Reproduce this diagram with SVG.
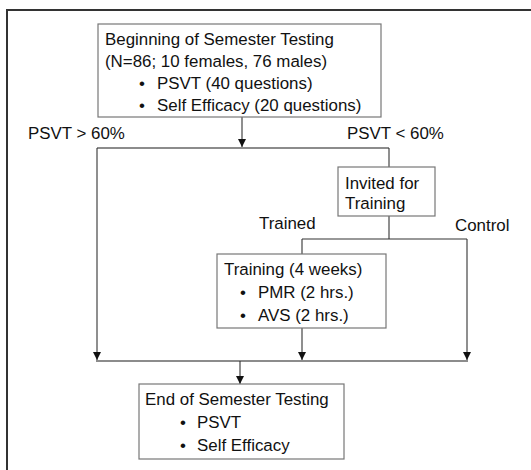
<svg xmlns="http://www.w3.org/2000/svg" width="531" height="470" viewBox="0 0 531 470">
  <defs>
    <marker id="arrow" viewBox="0 0 10 10" refX="10" refY="5" markerWidth="8" markerHeight="9" markerUnits="userSpaceOnUse" orient="auto">
      <path d="M0,0 L10,5 L0,10 z" fill="#111"/>
    </marker>
    <style>
      .box { fill: #fff; stroke: #777; stroke-width: 1.2; }
      .txt { font-family: "Liberation Sans", Arial, sans-serif; font-size: 16.9px; fill: #111; }
      .conn { fill: none; stroke: #333; stroke-width: 1.1; }
      .bus { fill: none; stroke: #666; stroke-width: 1.4; }
    </style>
  </defs>

  <rect width="531" height="470" fill="#fff"/>
  <!-- outer frame -->
  <path d="M7,470 V10 H531" fill="none" stroke="#333" stroke-width="2"/>

  <!-- connectors -->
  <g id="connectors">
    <line class="conn" x1="242" y1="117" x2="242" y2="147" marker-end="url(#arrow)"/>
    <line class="bus" x1="97" y1="148" x2="389" y2="148"/>
    <line class="conn" x1="97" y1="148" x2="97" y2="360" marker-end="url(#arrow)"/>
    <line class="conn" x1="389" y1="148" x2="389" y2="167"/>
    <line class="conn" x1="389" y1="216" x2="389" y2="239"/>
    <line class="conn" x1="302" y1="239" x2="467" y2="239"/>
    <line class="conn" x1="302" y1="239" x2="302" y2="254"/>
    <line class="conn" x1="467" y1="239" x2="467" y2="360" marker-end="url(#arrow)"/>
    <line class="conn" x1="302" y1="328" x2="302" y2="360" marker-end="url(#arrow)"/>
    <line class="bus" x1="96" y1="361" x2="468" y2="361"/>
    <line class="conn" x1="240" y1="361" x2="240" y2="384" marker-end="url(#arrow)"/>
    <text class="txt" x="28" y="139">PSVT &gt; 60%</text>
    <text class="txt" x="347" y="139">PSVT &lt; 60%</text>
    <text class="txt" x="259" y="229">Trained</text>
    <text class="txt" x="455" y="231">Control</text>
  </g>

  <!-- beginning of semester testing -->
  <g id="begin">
    <rect class="box" x="98" y="24" width="283" height="93"/>
    <text class="txt" x="105" y="45">Beginning of Semester Testing</text>
    <text class="txt" x="105" y="67">(N=86; 10 females, 76 males)</text>
    <text class="txt" x="139" y="89">•</text>
    <text class="txt" x="157" y="89">PSVT (40 questions)</text>
    <text class="txt" x="139" y="111">•</text>
    <text class="txt" x="157" y="111">Self Efficacy (20 questions)</text>
  </g>

  <!-- invited for training -->
  <g id="invited">
    <rect class="box" x="338" y="167" width="97" height="49"/>
    <text class="txt" x="345" y="189">Invited for</text>
    <text class="txt" x="345" y="209">Training</text>
  </g>

  <!-- training -->
  <g id="training">
    <rect class="box" x="217" y="254" width="169" height="74"/>
    <text class="txt" x="224" y="275">Training (4 weeks)</text>
    <text class="txt" x="240" y="298">•</text>
    <text class="txt" x="258" y="298">PMR (2 hrs.)</text>
    <text class="txt" x="240" y="321">•</text>
    <text class="txt" x="258" y="321">AVS (2 hrs.)</text>
  </g>

  <!-- end of semester testing -->
  <g id="end">
    <rect class="box" x="139" y="384" width="205" height="75"/>
    <text class="txt" x="145" y="405">End of Semester Testing</text>
    <text class="txt" x="180" y="428">•</text>
    <text class="txt" x="197" y="428">PSVT</text>
    <text class="txt" x="180" y="451">•</text>
    <text class="txt" x="197" y="451">Self Efficacy</text>
  </g>
</svg>
